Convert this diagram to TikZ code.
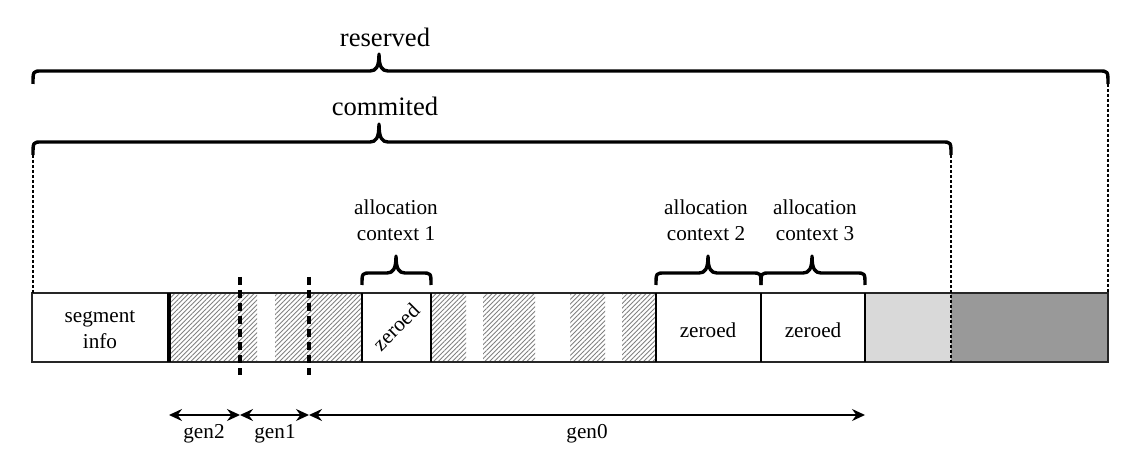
\documentclass[tikz,border=0pt]{standalone}
\usepackage{fontspec}
\setmainfont{Liberation Serif}
\usetikzlibrary{patterns.meta,arrows.meta}

\tikzset{
  txt/.style={font=\fontsize{10.6}{13}\selectfont, align=center, inner sep=0pt},
  bigtxt/.style={font=\fontsize{13.3}{16}\selectfont, inner sep=0pt},
  hatch/.style={pattern={Lines[angle=45,distance=1.65pt,line width=0.45pt]}, pattern color=black!50},
  brc/.style={line width=1.7pt, line join=round},
  guide/.style={line width=1.1pt, dash pattern=on 1.5pt off 1pt},
  gensplit/.style={line width=2pt, dash pattern=on 4pt off 2.5pt},
  genarrow/.style={{Stealth[length=6.5pt,width=6pt,inset=2.2pt]}-{Stealth[length=6.5pt,width=6pt,inset=2.2pt]}, line width=0.9pt},
}

% brace: left x, right x, tip x, end y, line y, tip y
\newcommand\membrace[6]{%
  \draw[brc] (#1,#4) .. controls (#1,#5) .. ({#1+9},#5) -- ({#3-9},#5)
    .. controls ({#3-3},#5) and (#3,{#5-4}) .. (#3,#6)
    .. controls (#3,{#5-4}) and ({#3+3},#5) .. ({#3+9},#5)
    -- ({#2-9},#5) .. controls (#2,#5) .. (#2,#4);}

\begin{document}
\begin{tikzpicture}[x=0.5pt,y=-0.5pt]
  \useasboundingbox (0,0) rectangle (1144,459);
  \def\bartop{293}
  \def\barbot{362}
  \def\segend{169}
  \def\splitA{240}
  \def\splitB{309}
  \def\ctxAl{362}
  \def\ctxAr{431}
  \def\ctxBl{656}
  \def\ctxBr{761}
  \def\ctxCr{865}
  \def\commend{951}
  \def\resend{1108}

  % fills
  \fill[black!15] (\ctxCr,\bartop) rectangle (\commend,\barbot);
  \fill[black!40] (\commend,\bartop) rectangle (\resend,\barbot);
  \foreach \a/\b in {\segend/257, 275/\ctxAl, \ctxAr/466, 483/535, 570/605, 622/\ctxBl} {
    \fill[hatch] (\a,\bartop) rectangle (\b,\barbot);
  }

  % bar
  \draw[line width=1.1pt, black!85] (32,\bartop) rectangle (\resend,\barbot);
  \draw[line width=1.6pt] (\segend,\bartop) -- (\segend,\barbot);
  \foreach \x in {\ctxAl, \ctxAr, \ctxBl, \ctxBr, \ctxCr} {
    \draw[line width=1pt] (\x,\bartop) -- (\x,\barbot);
  }

  \node[txt] (seg) at (100,330) {segment\\info};
  \node[txt, rotate=45] (zeroA) at (396,327) {zeroed};
  \node[txt] (zeroB) at (708,330) {zeroed};
  \node[txt] (zeroC) at (813,330) {zeroed};

  % allocation contexts
  \membrace{\ctxAl}{\ctxAr}{396}{285}{273}{256}
  \membrace{\ctxBl}{\ctxBr}{708}{285}{273}{256}
  \membrace{\ctxBr}{\ctxCr}{812}{285}{273}{256}
  \node[txt] (ctxA) at (396,220) {allocation\\context 1};
  \node[txt] (ctxB) at (706,220) {allocation\\context 2};
  \node[txt] (ctxC) at (815,220) {allocation\\context 3};

  % reserved / commited
  \membrace{33}{\resend}{379}{84}{71}{54}
  \membrace{33}{\commend}{379}{155}{142}{124}
  \node[bigtxt] (res) at (385,37) {reserved};
  \node[bigtxt] (com) at (385,106) {commited};

  \draw[guide] (33,155) -- (33,\bartop);
  \draw[guide] (\commend,155) -- (\commend,\barbot);
  \draw[guide] (\resend,84) -- (\resend,\bartop);

  % generations
  \draw[gensplit] (\splitA,277) -- (\splitA,375);
  \draw[gensplit] (\splitB,277) -- (\splitB,375);

  \coordinate (g2) at (\segend,415);
  \coordinate (g1) at (\splitA,415);
  \coordinate (g0) at (\splitB,415);
  \coordinate (gend) at (\ctxCr,415);
  \draw[genarrow] (g2) -- (g1);
  \draw[genarrow] (g1) -- (g0);
  \draw[genarrow] (g0) -- (gend);
  \node[txt] (gen2) at (204,434) {gen2};
  \node[txt] (gen1) at (275,434) {gen1};
  \node[txt] (gen0) at (587,434) {gen0};
\end{tikzpicture}
\end{document}
